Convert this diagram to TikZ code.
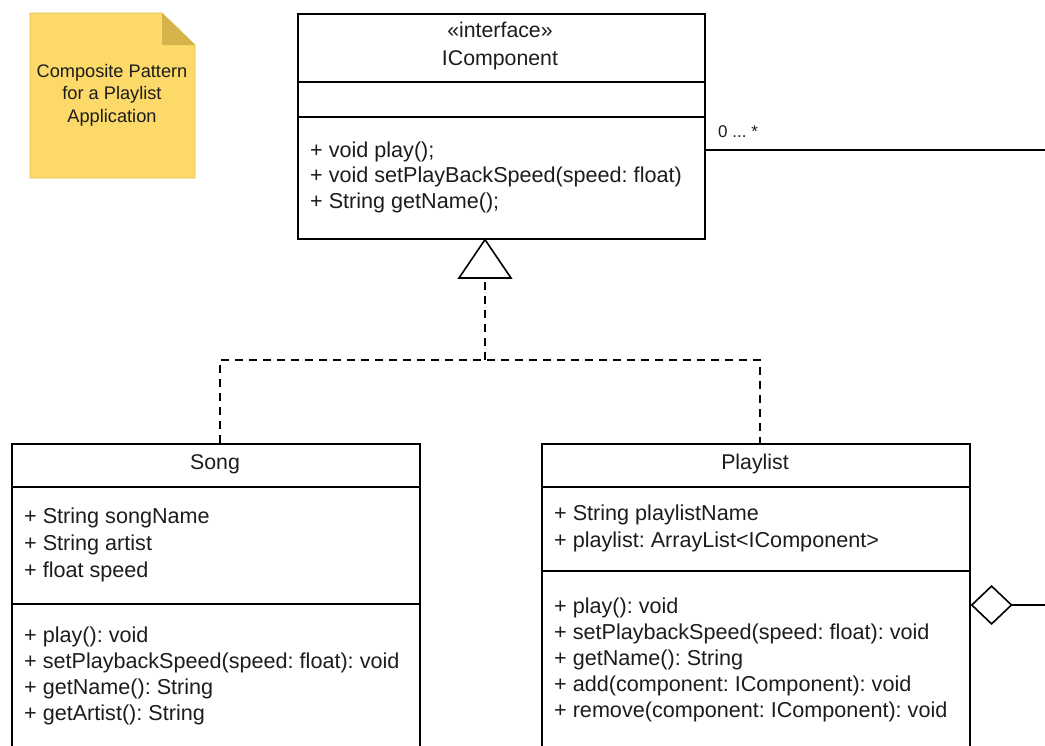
\documentclass[tikz,border=0pt]{standalone}
\usepackage{fontspec}
\setmainfont{Liberation Sans}
\usetikzlibrary{arrows.meta,calc}
\definecolor{notefill}{HTML}{FCD968}
\definecolor{noteedge}{HTML}{E2BF55}
\definecolor{notefold}{HTML}{D6B44C}
\definecolor{ink}{HTML}{1C1C1C}
\frenchspacing

\begin{document}
\begin{tikzpicture}[x=1pt,y=-1pt,
  every node/.style={text=ink},
  classbox/.style={draw=black, line width=1.6pt, rectangle, inner sep=0pt, anchor=north west},
  sepline/.style={draw=black, line width=1.6pt},
  member/.style={anchor=base west, inner sep=0pt, font=\fontsize{21.6}{25}\selectfont},
  title/.style={anchor=base, inner sep=0pt, font=\fontsize{21.3}{25}\selectfont},
  notetext/.style={anchor=base, inner sep=0pt, font=\fontsize{18.2}{21}\selectfont},
  conn/.style={draw=black, line width=1.6pt},
  realize/.style={conn, dash pattern=on 8pt off 6pt},
  mult/.style={anchor=base west, inner sep=0pt, font=\fontsize{17}{19}\selectfont}]

\useasboundingbox (0,0) rectangle (1045,745);
\clip (0,0) rectangle (1045,745);

% sticky note with a folded corner
\fill[notefill, draw=noteedge, line width=0.8pt]
  (30,13) -- (162,13) -- (195,45) -- (195,178) -- (30,178) -- cycle;
\fill[notefold] (162,13) -- (162,45) -- (195,45) -- cycle;
\foreach [count=\i] \t in {Composite Pattern, for a Playlist, Application}
  \node[notetext] (note\i) at (112,{77+22.5*(\i-1)}) {\t};

% interface IComponent
\node[classbox, minimum width=407pt, minimum height=225pt] (ic) at (297,13) {};
\draw[sepline] (297,82) -- (704,82);
\draw[sepline] (297,117) -- (704,117);
\node[title] (icstereo) at (500,37) {«interface»};
\node[title] (icname) at (500,65) {IComponent};
\foreach [count=\i] \t in {{+ void play();}, {+ void setPlayBackSpeed(speed: float)}, {+ String getName();}}
  \node[member] (icop\i) at (310,{157+25.5*(\i-1)}) {\t};

% class Song
\node[classbox, minimum width=408pt, minimum height=330pt] (song) at (11,443) {};
\draw[sepline] (11,487) -- (419,487);
\draw[sepline] (11,604) -- (419,604);
\node[title] (songtitle) at (215,469) {Song};
\foreach [count=\i] \t in {{+ String songName}, {+ String artist}, {+ float speed}}
  \node[member] (songattr\i) at (24,{523+27*(\i-1)}) {\t};
\foreach [count=\i] \t in {{+ play(): void}, {+ setPlaybackSpeed(speed: float): void},
    {+ getName(): String}, {+ getArtist(): String}}
  \node[member] (songop\i) at (24,{642+26*(\i-1)}) {\t};

% class Playlist
\node[classbox, minimum width=428pt, minimum height=330pt] (pl) at (541,443) {};
\draw[sepline] (541,487) -- (969,487);
\draw[sepline] (541,571) -- (969,571);
\node[title] (pltitle) at (755,469) {Playlist};
\foreach [count=\i] \t in {{+ String playlistName}, {+ playlist: ArrayList<IComponent>}}
  \node[member] (plattr\i) at (554,{520+27*(\i-1)}) {\t};
\foreach [count=\i] \t in {{+ play(): void}, {+ setPlaybackSpeed(speed: float): void},
    {+ getName(): String}, {+ add(component: IComponent): void},
    {+ remove(component: IComponent): void}}
  \node[member] (plop\i) at (554,{613+26*(\i-1)}) {\t};

% realization of the interface by Song and Playlist
\coordinate (join) at (485,360);
\coordinate (tribase) at (485,278);
\draw[realize] (song.north -| 220,0) |- (join) -| (pl.north -| 760,0);
\draw[realize] (join) -- (tribase);
\draw[conn, line join=miter] (ic.south -| tribase) -- ($(tribase)+(-26,0)$) -- ($(tribase)+(26,0)$) -- cycle;

% association from IComponent, with its multiplicity
\coordinate (assocend) at (1045,150);
\draw[conn] (ic.east |- assocend) -- (assocend);
\node[mult] (multlabel) at (718,137) {0 ... *};

% aggregation from Playlist (open diamond)
\coordinate (aggend) at (1045,605);
\draw[conn, {Diamond[open, length=42pt, width=40pt, line width=1.6pt]}-] (pl.east |- aggend) -- (aggend);

\end{tikzpicture}
\end{document}
